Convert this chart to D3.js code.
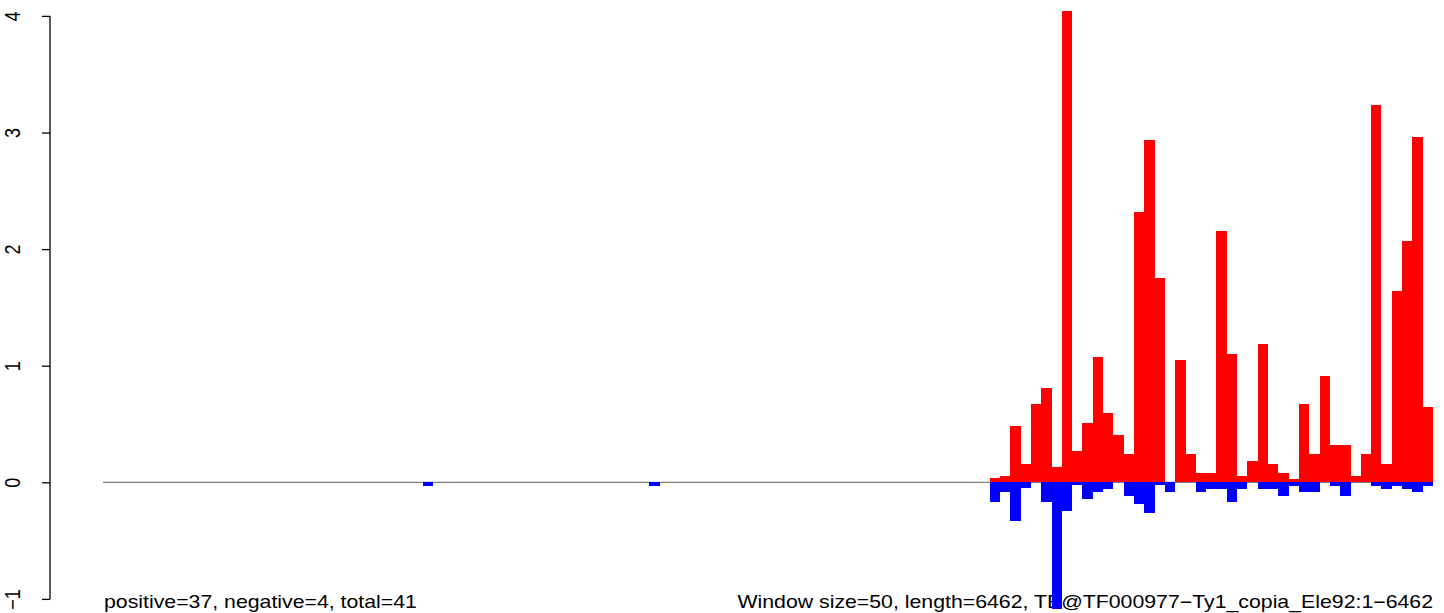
<!DOCTYPE html>
<html>
<head>
<meta charset="utf-8">
<script src="https://cdn.jsdelivr.net/npm/d3@7"></script>
<style>
  html, body { margin: 0; padding: 0; background: #fff; }
  svg { display: block; }
  text { font-family: "Liberation Sans", Arial, sans-serif; }
</style>
</head>
<body>
<svg id="chart" width="1444" height="613"></svg>
<script>
// ---- data ----
const windowSize = 50;
const seqLength = 6462;
const nBins = 129;
const binIndex = [31, 53,
  86, 87, 88, 89, 90, 91, 92, 93, 94, 95, 96, 97, 98, 99, 100, 101, 102, 103, 104, 105, 106, 107,
  108, 109, 110, 111, 112, 113, 114, 115, 116, 117, 118, 119, 120, 121, 122, 123, 124, 125, 126, 127, 128];
const positiveValues = [0, 0,
  0.033, 0.057, 0.483, 0.157, 0.673, 0.81, 0.133, 4.04, 0.27, 0.51, 1.073, 0.593, 0.407, 0.243, 2.317, 2.933, 1.75, 0, 1.047, 0.243, 0.08, 0.08,
  2.153, 1.10, 0.057, 0.183, 1.187, 0.157, 0.08, 0.03, 0.673, 0.243, 0.91, 0.323, 0.323, 0.057, 0.243, 3.233, 0.157, 1.643, 2.07, 2.96, 0.647];
const negativeValues = [-0.03, -0.03,
  -0.166, -0.08, -0.33, -0.05, 0, -0.166, -1.09, -0.243, -0.023, -0.14, -0.08, -0.057, 0, -0.114, -0.19, -0.266, -0.023, -0.08, 0, 0, -0.08, -0.054,
  -0.054, -0.166, -0.054, 0, -0.054, -0.054, -0.114, -0.03, -0.08, -0.08, 0, -0.03, -0.114, 0, 0, -0.03, -0.054, -0.03, -0.054, -0.08, -0.03];
const yTicks = [-1, 0, 1, 2, 3, 4];
const leftLabel = "positive=37, negative=4, total=41";
const rightLabel = "Window size=50, length=6462, TE@TF000977\u2212Ty1_copia_Ele92:1\u22126462";

// ---- scales ----
const svg = d3.select("#chart");
const x = d3.scaleLinear().domain([0, nBins]).range([103, 1433]);
const y = d3.scaleLinear().domain([-1, 4]).range([598.9, 15.9]);
const stretchX = 1.183;

// baseline
svg.append("line")
  .attr("x1", x(0)).attr("x2", x(nBins))
  .attr("y1", y(0)).attr("y2", y(0))
  .attr("stroke", "#808080").attr("stroke-width", 1.3);

// texts (drawn before bars, bars overlap them)
svg.append("text")
  .attr("transform", `translate(${x(0) + 1},608) scale(${stretchX},1)`)
  .attr("font-size", 18).attr("fill", "#000").text(leftLabel);
svg.append("text")
  .attr("transform", `translate(${x(nBins)},608) scale(${stretchX},1)`)
  .attr("font-size", 18).attr("fill", "#000").attr("text-anchor", "end").text(rightLabel);

const data = binIndex.map((b, i) => ({ b, pos: positiveValues[i], neg: negativeValues[i] }));

// positive bars
svg.append("g").selectAll("rect").data(data.filter(d => d.pos > 0)).join("rect")
  .attr("x", d => x(d.b)).attr("width", d => x(d.b + 1) - x(d.b))
  .attr("y", d => y(d.pos)).attr("height", d => y(0) - y(d.pos))
  .attr("fill", "#ff0000").attr("shape-rendering", "crispEdges");

// negative bars
svg.append("g").selectAll("rect").data(data.filter(d => d.neg < 0)).join("rect")
  .attr("x", d => x(d.b)).attr("width", d => x(d.b + 1) - x(d.b))
  .attr("y", y(0)).attr("height", d => y(d.neg) - y(0))
  .attr("fill", "#0000ff").attr("shape-rendering", "crispEdges");

// y axis
const axis = d3.axisLeft(y).tickValues(yTicks).tickSize(8).tickPadding(10)
  .tickFormat(d => d < 0 ? "\u2212" + Math.abs(d) : String(d));
const gAxis = svg.append("g").attr("transform", "translate(50,0)").call(axis);
gAxis.select(".domain").attr("d", `M0,${y(-1)}V${y(4)}`).attr("stroke", "#000").attr("stroke-width", 1.3);
gAxis.selectAll(".tick line").attr("stroke", "#000").attr("stroke-width", 1.3);
gAxis.selectAll(".tick text")
  .attr("font-size", 18).attr("font-family", "Liberation Sans, Arial, sans-serif").attr("fill", "#000")
  .attr("text-anchor", "middle").attr("dy", null)
  .attr("transform", `translate(-30,0) rotate(-90) scale(1,${stretchX})`)
  .attr("x", 0).attr("y", 0);
</script>
</body>
</html>
